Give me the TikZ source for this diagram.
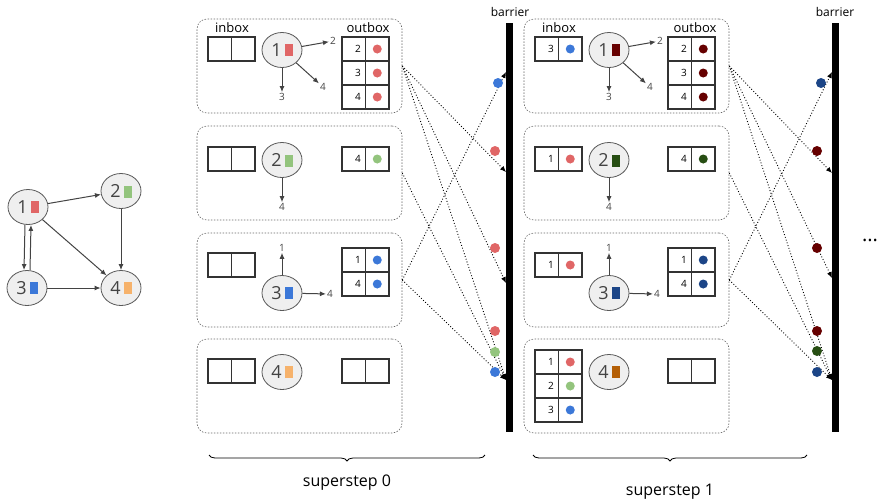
\documentclass[tikz,border=0pt]{standalone}
\usepackage{fontspec}
\setmainfont{Open Sans}
\usepackage{xcolor}
\usepackage{tikz}
\usetikzlibrary{arrows.meta,shapes.geometric,decorations.pathreplacing}
\definecolor{vred}{HTML}{E06666}
\definecolor{vgreen}{HTML}{93C47D}
\definecolor{vblue}{HTML}{3C78D8}
\definecolor{vorange}{HTML}{F6B26B}
\definecolor{dred}{HTML}{660000}
\definecolor{dgreen}{HTML}{274E13}
\definecolor{dblue}{HTML}{1C4587}
\definecolor{dorange}{HTML}{B45F06}
\definecolor{vfill}{HTML}{EFEFEF}
\definecolor{vline}{HTML}{595959}
\definecolor{vtext}{HTML}{434343}
\definecolor{boxcol}{HTML}{333333}
\definecolor{panelline}{HTML}{666666}

\newcommand{\vlabel}[2]{#1\,\textcolor{#2}{\rule{8pt}{12pt}}}
% mailbox: left x, top y, list of number/colour rows
\newcommand{\mailbox}[3]{%
  \foreach \n/\c [count=\r from 0] in {#3} {
    \draw[boxline] (#1,#2+24*\r) rectangle ++(23.5,24);
    \draw[boxline] (#1+23.5,#2+24*\r) rectangle ++(23.5,24);
    \node[cellnum, anchor=east] at (#1+19,#2+24*\r+12) {\n};
    \fill[\c] (#1+35.25,#2+24*\r+12) circle (4.5);
  }%
}

\tikzset{
  vertex/.style={ellipse, draw=vline, fill=vfill, line width=0.8pt, minimum width=40pt,
    minimum height=35pt, inner sep=0pt, text=vtext, font=\fontsize{18}{18}\selectfont},
  edge/.style={-{Latex[length=6pt,width=5pt]}, draw=vtext, line width=1pt},
  tgt/.style={text=vtext, font=\fontsize{10}{10}\selectfont, inner sep=1pt},
  cellnum/.style={font=\fontsize{10}{10}\selectfont, inner sep=0pt},
  panel/.style={draw=panelline, dash pattern=on 1.5pt off 1.5pt, rounded corners=10pt,
    minimum width=205pt, minimum height=94pt, line width=0.6pt},
  boxline/.style={draw=boxcol, line width=1.2pt},
  msg/.style={dotted, line width=0.9pt, -{Latex[length=6pt,width=5pt]}},
  boxlabel/.style={font=\fontsize{13}{13}\selectfont},
  bracelabel/.style={font=\fontsize{16}{16}\selectfont},
}

\begin{document}
\begin{tikzpicture}[x=1pt,y=-1pt]
  \useasboundingbox (0,0) rectangle (880,501);

  % input graph
  \node[vertex] (g1) at (28,207) {\vlabel{1}{vred}};
  \node[vertex] (g2) at (121,191) {\vlabel{2}{vgreen}};
  \node[vertex] (g3) at (27,288) {\vlabel{3}{vblue}};
  \node[vertex] (g4) at (121,288) {\vlabel{4}{vorange}};
  \draw[edge] (g1) -- (g2);
  \draw[edge] (g1) -- (g4);
  \draw[edge] (g2) -- (g4);
  \draw[edge] (g3) -- (g4);
  \draw[edge] ([xshift=-3pt]g1.south) -- ([xshift=-3pt]g3.north);
  \draw[edge] ([xshift=3pt]g3.north) -- ([xshift=3pt]g1.south);

  % panels
  \foreach \s/\x in {0/299.5,1/626.5}
    \foreach \p/\y in {1/66,2/173,3/280,4/386}
      \node[panel] (p\s\p) at (\x,\y) {};

  % superstep 0
  \node[boxlabel] (in0) at (232,28) {inbox};
  \node[boxlabel] (out0) at (368,28) {outbox};
  \node[vertex] (v01) at (282,50) {\vlabel{1}{vred}};
  \node[vertex] (v02) at (282,160) {\vlabel{2}{vgreen}};
  \node[vertex] (v03) at (282,293) {\vlabel{3}{vblue}};
  \node[vertex] (v04) at (282,372) {\vlabel{4}{vorange}};
  \node[tgt] (t012) at (333,41) {2};
  \node[tgt] (t014) at (323,87) {4};
  \node[tgt] (t013) at (282,97) {3};
  \node[tgt] (t024) at (282,207) {4};
  \node[tgt] (t031) at (282,248) {1};
  \node[tgt] (t034) at (330,294) {4};
  \draw[edge] (v01) -- (t012);
  \draw[edge] (v01) -- (t014);
  \draw[edge] (v01) -- (t013);
  \draw[edge] (v02) -- (t024);
  \draw[edge] (v03) -- (t031);
  \draw[edge] (v03) -- (t034);
  \mailbox{208}{37}{/white}
  \mailbox{208}{147}{/white}
  \mailbox{208}{253}{/white}
  \mailbox{208}{359}{/white}
  \mailbox{342}{37}{2/vred,3/vred,4/vred}
  \mailbox{342}{147}{4/vgreen}
  \mailbox{342}{248}{1/vblue,4/vblue}
  \mailbox{342}{359}{/white}

  % superstep 1
  \node[boxlabel] (in1) at (559,28) {inbox};
  \node[boxlabel] (out1) at (695,28) {outbox};
  \node[vertex] (v11) at (609,50) {\vlabel{1}{dred}};
  \node[vertex] (v12) at (609,160) {\vlabel{2}{dgreen}};
  \node[vertex] (v13) at (609,293) {\vlabel{3}{dblue}};
  \node[vertex] (v14) at (609,372) {\vlabel{4}{dorange}};
  \node[tgt] (t112) at (660,41) {2};
  \node[tgt] (t114) at (650,87) {4};
  \node[tgt] (t113) at (609,97) {3};
  \node[tgt] (t124) at (609,207) {4};
  \node[tgt] (t131) at (609,248) {1};
  \node[tgt] (t134) at (657,294) {4};
  \draw[edge] (v11) -- (t112);
  \draw[edge] (v11) -- (t114);
  \draw[edge] (v11) -- (t113);
  \draw[edge] (v12) -- (t124);
  \draw[edge] (v13) -- (t131);
  \draw[edge] (v13) -- (t134);
  \mailbox{535}{37}{3/vblue}
  \mailbox{535}{147}{1/vred}
  \mailbox{535}{253}{1/vred}
  \mailbox{535}{350}{1/vred,2/vgreen,3/vblue}
  \mailbox{668}{37}{2/dred,3/dred,4/dred}
  \mailbox{668}{147}{4/dgreen}
  \mailbox{668}{248}{1/dblue,4/dblue}
  \mailbox{668}{359}{/white}

  % barriers
  \fill (506,23) rectangle (513,432);
  \fill (832,23) rectangle (839,432);
  \node[font=\fontsize{12}{12}\selectfont] (bar0) at (510,12) {barrier};
  \node[font=\fontsize{12}{12}\selectfont] (bar1) at (835,12) {barrier};
  \node[font=\fontsize{20}{20}\selectfont] (more) at (870,240) {...};

  % messages
  \coordinate (b0a) at (506,72);
  \coordinate (b0b) at (506,172);
  \coordinate (b0c) at (506,283);
  \coordinate (b0d) at (506,380);
  \coordinate (b1a) at (832,72);
  \coordinate (b1b) at (832,173);
  \coordinate (b1c) at (832,278);
  \coordinate (b1d) at (832,380);
  \foreach \s in {0,1} {
    \draw[msg] (p\s1.east) -- (b\s b);
    \draw[msg] (p\s1.east) -- (b\s c);
    \draw[msg] (p\s1.east) -- (b\s d);
    \draw[msg] (p\s2.east) -- (b\s d);
    \draw[msg] (p\s3.east) -- (b\s a);
    \draw[msg] (p\s3.east) -- (b\s d);
  }
  \foreach \x/\y/\c in {498/83/vblue,495/151/vred,495/248/vred,495/331/vred,495/352/vgreen,495/372/vblue,
                        821/83/dblue,817/151/dred,817/248/dred,817/331/dred,817/351/dgreen,817/372/dblue}
    \fill[\c] (\x,\y) circle (5);

  % supersteps
  \draw[decorate, decoration={brace, mirror, amplitude=6pt}, line width=0.8pt]
    (209,455) -- (485,455) node[midway, below=16pt, bracelabel] (ss0) {superstep 0};
  \draw[decorate, decoration={brace, mirror, amplitude=6pt}, line width=0.8pt]
    (533,455) -- (807,455) node[midway, below=25pt, bracelabel] (ss1) {superstep 1};
\end{tikzpicture}
\end{document}
